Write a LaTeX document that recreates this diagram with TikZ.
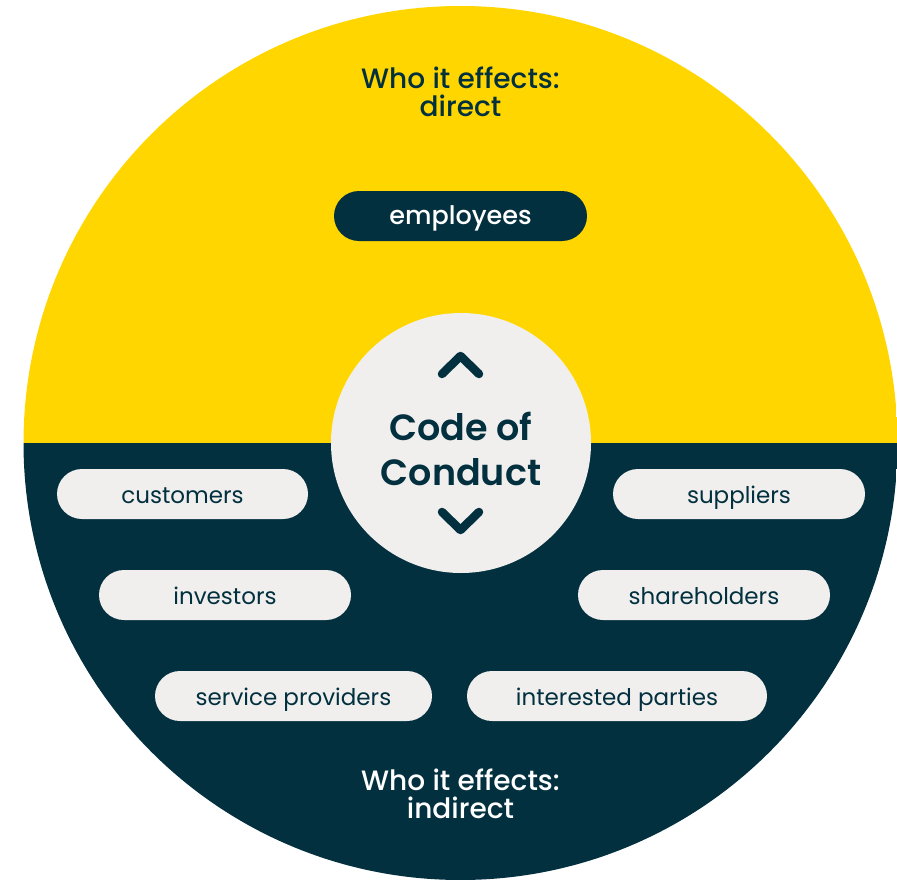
\documentclass[tikz,border=0pt]{standalone}
\usepackage{fontspec}
\setmainfont{Poppins}
\newfontfamily\popmed{Poppins Medium}
\newfontfamily\popsemi{Poppins SemiBold}
\begin{document}
\begin{tikzpicture}[x=1pt,y=-1pt,
  pill/.style={rectangle, rounded corners=25pt, minimum width=#1, minimum height=50pt,
    inner sep=0pt, text height=18pt, text depth=0pt,
    fill=pillgray, text=navy, font=\fontsize{23}{27}\selectfont},
  chev/.style={draw=navy, line width=8.5pt, line cap=round, line join=round},
  heading/.style={align=center, inner sep=0pt, font=\popmed\fontsize{28}{28}\selectfont}]
\definecolor{sun}{HTML}{FFD600}
\definecolor{navy}{HTML}{02303F}
\definecolor{pillgray}{HTML}{F0EFEE}
\useasboundingbox (0,0) rectangle (897,880);
% two-tone disc
\begin{scope}
  \clip (460.5,443) circle[radius=437];
  \fill[sun] (0,0) rectangle (897,443);
  \fill[navy] (0,443) rectangle (897,880);
\end{scope}
% central badge
\node[circle, fill=pillgray, minimum size=260pt, inner sep=0pt] (core) at (461,443) {};
\node[anchor=base, inner sep=0pt, text=navy, font=\popsemi\fontsize{36.5}{44}\selectfont] (codeA) at (461,440) {Code of};
\node[anchor=base, inner sep=0pt, text=navy, font=\popsemi\fontsize{36.5}{44}\selectfont] (codeB) at (461,485) {Conduct};
\coordinate (upL) at (442,374);
\coordinate (upT) at (460.5,356);
\coordinate (upR) at (479,374);
\coordinate (dnL) at (442,512);
\coordinate (dnB) at (460.5,530);
\coordinate (dnR) at (479,512);
\draw[chev] (upL) -- (upT) -- (upR);
\draw[chev] (dnL) -- (dnB) -- (dnR);
% headings (the base anchor sits on the last line)
\node[heading, text=navy, anchor=base] (direct) at (460.5,117) {Who it effects:\\direct};
\node[heading, text=white, anchor=base] (indirect) at (460.5,818) {Who it effects:\\indirect};
% direct group
\node[pill=253pt, fill=navy, text=white, text height=16pt, font=\popmed\fontsize{25.5}{30}\selectfont] (employees) at (460.5,216) {employees};
% indirect group
\node[pill=251pt] (customers) at (182.5,494) {customers};
\node[pill=252pt] (investors) at (225,595) {investors};
\node[pill=277pt] (service) at (293.5,696) {service providers};
\node[pill=252pt] (suppliers) at (739,494) {suppliers};
\node[pill=252pt] (shareholders) at (704,595) {shareholders};
\node[pill=300pt] (interested) at (617,696) {interested parties};
\end{tikzpicture}
\end{document}
